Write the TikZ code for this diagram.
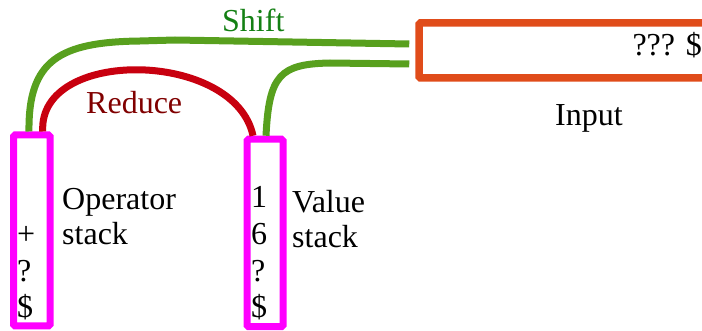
\documentclass[tikz,border=0pt]{standalone}
\usepackage{fontspec}
\setmainfont{Liberation Serif}
\usetikzlibrary{calc}
\definecolor{mag}{RGB}{255,0,255}
\definecolor{inpc}{RGB}{224,76,26}
\definecolor{grn}{RGB}{88,160,30}
\definecolor{grntxt}{RGB}{20,128,20}
\definecolor{redl}{RGB}{200,0,15}
\definecolor{redtxt}{RGB}{128,0,0}
\begin{document}
\begin{tikzpicture}[x=1pt,y=-1pt,
  txt/.style={inner sep=0pt,anchor=base west,font=\fontsize{32}{37}\selectfont},
  stackbox/.style={draw=mag,line width=7pt,rounded corners=1.5pt,inner sep=0pt},
  conn/.style={line width=7pt}]
\useasboundingbox (0,0) rectangle (702,331);
% boxes
\node[stackbox,minimum width=36.5pt,minimum height=191pt] (opbox) at (31.75,230.5) {};
\node[stackbox,minimum width=36pt,minimum height=187.5pt] (valbox) at (265,233) {};
\node[draw=inpc,line width=7.5pt,rounded corners=1.5pt,inner sep=0pt,minimum width=291pt,minimum height=55pt] (inp) at (564.5,50.5) {};
% stack contents
\node[txt] (op1) at (17,245) {+};
\node[txt] (op2) at (17,282) {?};
\node[txt] (op3) at (17,318) {\$};
\node[txt] (v1) at (251,208) {1};
\node[txt] (v2) at (251,245) {6};
\node[txt] (v3) at (251,282) {?};
\node[txt] (v4) at (251,318) {\$};
% labels
\node[txt] (opl1) at (62,210) {Operator};
\node[txt] (opl2) at (62,245) {stack};
\node[txt] (vl1) at (292,213) {Value};
\node[txt] (vl2) at (292,248) {stack};
\node[txt] (inl) at (555,126) {Input};
\node[txt,anchor=base east] (intext) at (702,56) {??? \$};
\node[txt,text=grntxt] (shiftl) at (222,32) {Shift};
\node[txt,text=redtxt] (redl) at (86,114) {Reduce};
% connectors
\coordinate (s1) at ($(opbox.north)+(-2.75,0)$);
\coordinate (r1) at ($(opbox.north)+(11,0)$);
\coordinate (r2) at ($(valbox.north)+(-12,0)$);
\coordinate (s2) at ($(valbox.north)+(1,0)$);
\coordinate (e1) at ($(inp.west)+(-6,-6.5)$);
\coordinate (e2) at ($(inp.west)+(-6,13.5)$);
\draw[conn,grn] (s1) .. controls (28,60) and (60,42) .. (140,41) -- (175,40) -- (e1);
\draw[conn,grn] (s2) .. controls (269,75) and (280,64) .. (330,63) -- (e2);
\draw[conn,redl] (r1) .. controls (38,47) and (235,50) .. (r2);
\end{tikzpicture}
\end{document}
